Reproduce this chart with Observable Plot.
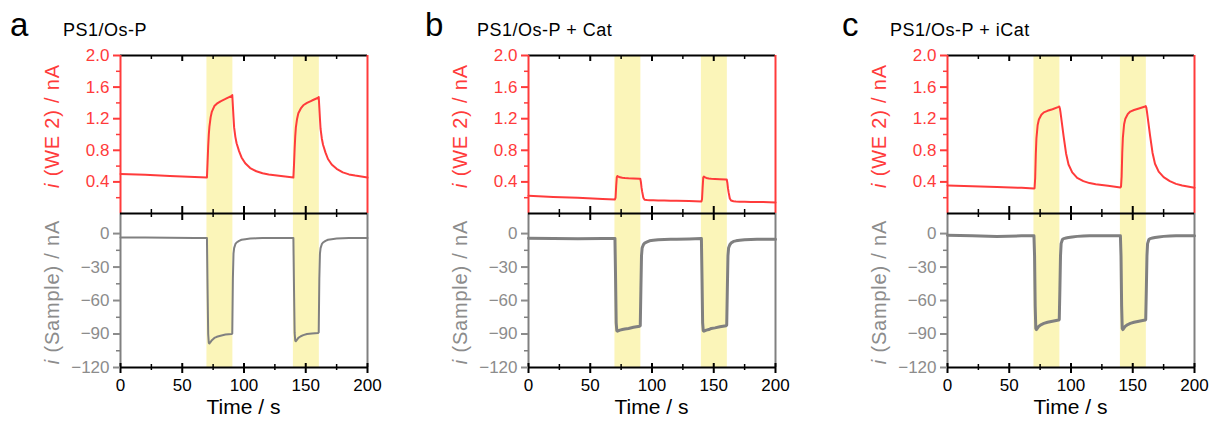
<!DOCTYPE html>
<html>
<head>
<meta charset="utf-8">
<script src="https://cdn.jsdelivr.net/npm/d3@7"></script>
<script src="https://cdn.jsdelivr.net/npm/@observablehq/plot@0.6"></script>
<style>
  body { margin: 0; background: #fff; }
  #chart { position: relative; width: 1210px; height: 423px; overflow: hidden; background: #fff; }
  #chart svg { position: absolute; overflow: visible; }
</style>
</head>
<body>
<div id="chart"></div>
<script>
// ---------------- DATA ----------------
const time = [0, 20, 40, 60, 70, 70.5, 71, 71.5, 72, 73, 74, 76, 78, 81, 85, 90, 90.5, 91, 91.5, 92, 93, 94, 96, 98, 101, 105, 110, 115, 120, 130,
              140, 140.5, 141, 141.5, 142, 143, 144, 146, 148, 151, 155, 160, 160.5, 161, 161.5, 162, 163, 164, 166, 168, 171, 175, 180, 185, 190, 200];

const we2A = [0.50, 0.49, 0.475, 0.462, 0.455, 0.65, 0.85, 1.0, 1.1, 1.22, 1.29, 1.36, 1.39, 1.42, 1.45, 1.49, 1.50, 1.36, 1.22, 1.09, 0.97, 0.89, 0.79, 0.71, 0.635, 0.575, 0.535, 0.51, 0.495, 0.475,
              0.455, 0.62, 0.82, 0.98, 1.09, 1.2, 1.27, 1.33, 1.37, 1.40, 1.43, 1.465, 1.475, 1.34, 1.2, 1.07, 0.95, 0.87, 0.77, 0.69, 0.62, 0.565, 0.52, 0.495, 0.48, 0.455];
const sampleA = [-3.5, -3.6, -3.8, -3.9, -4, -50, -90, -98, -98.5, -97, -95.5, -93.5, -92.5, -91.5, -90.5, -90, -89.5, -40, -18, -13, -9.5, -8, -6.5, -5.5, -5, -4.5, -4.2, -4, -4, -4,
                 -4, -50, -89, -96, -96.5, -95, -93.5, -92, -91, -90, -89.5, -89, -88.5, -40, -18, -13, -9.5, -8, -6.5, -5.5, -5, -4.5, -4.2, -4, -4, -4];

const we2B = [0.225, 0.21, 0.20, 0.185, 0.178, 0.2, 0.35, 0.46, 0.475, 0.465, 0.458, 0.452, 0.448, 0.445, 0.443, 0.44, 0.44, 0.40, 0.33, 0.28, 0.2, 0.175, 0.17, 0.168, 0.167, 0.165, 0.164, 0.162, 0.16, 0.157,
              0.153, 0.18, 0.33, 0.455, 0.468, 0.458, 0.45, 0.444, 0.44, 0.437, 0.434, 0.43, 0.43, 0.39, 0.32, 0.27, 0.19, 0.165, 0.155, 0.152, 0.15, 0.149, 0.147, 0.145, 0.144, 0.14];
const sampleB = [-4.2, -4.4, -4.6, -4.5, -4.3, -40, -80, -87, -87.5, -87, -86.5, -86, -85.5, -85, -84, -83, -82.5, -50, -20, -13, -10, -8.5, -7.5, -6.5, -6, -5.5, -5.2, -5, -5, -4.8,
                 -4.5, -40, -80, -87, -87.5, -87, -86.5, -86, -85, -84.5, -83.5, -82.5, -82, -50, -20, -13, -10, -8.5, -7, -6.5, -6, -5.5, -5.2, -5, -5, -5];

const we2C = [0.355, 0.345, 0.335, 0.325, 0.315, 0.32, 0.45, 0.75, 0.95, 1.12, 1.19, 1.25, 1.28, 1.30, 1.32, 1.35, 1.355, 1.33, 1.28, 1.22, 1.10, 0.98, 0.76, 0.62, 0.52, 0.45, 0.41, 0.385, 0.37, 0.35,
              0.33, 0.34, 0.47, 0.77, 0.96, 1.13, 1.2, 1.26, 1.29, 1.31, 1.33, 1.355, 1.36, 1.34, 1.29, 1.23, 1.11, 0.99, 0.77, 0.63, 0.53, 0.46, 0.41, 0.375, 0.355, 0.325];
const sampleC = [-1.5, -2, -2.5, -2, -2, -20, -65, -85, -86, -84.5, -83, -81.5, -80.5, -79.5, -78.5, -77.5, -77, -50, -20, -9, -5.5, -4.5, -4, -3.5, -3, -2.5, -2.2, -2, -2, -2,
                 -2, -20, -65, -85, -86, -84.5, -83, -81.5, -80.5, -79.5, -78.5, -77.5, -77, -50, -20, -9, -5.5, -4.5, -4, -3.5, -3, -2.5, -2.2, -2, -2, -2];

const bandStart = [70, 140];
const bandEnd = [91, 161];

const panelLetters = ["a", "b", "c"];
const panelTitles = ["PS1/Os-P", "PS1/Os-P + Cat", "PS1/Os-P + iCat"];
const xTicks = [0, 50, 100, 150, 200];
const xInner = [50, 100, 150];
const xMinor = [25, 75, 125, 175];
const we2Ticks = [0.4, 0.8, 1.2, 1.6, 2.0];
const we2Minor = [0.2, 0.6, 1.0, 1.4, 1.8];
const sampleTicks = [0, -30, -60, -90, -120];
const sampleMinor = [-15, -45, -75, -105];

// ---------------- STYLE / LAYOUT ----------------
const FONT = '"Liberation Sans", Arial, sans-serif';
const RED = "#ff3b3b", GRAY = "#808080", GRAYTXT = "#8c8c8c", BAND = "#fbf5b9";
const FW = 247, ML = 110, MR = 12;
const frameLefts = [120, 528, 947];
const TOP_Y0 = 55, DIV_Y = 213, BOT_Y = 367, H_TOTAL = 423;
const letterX = [10, 425, 842];
const titleX = [63, 477, 890];

const bandRows = bandStart.map((s, i) => ({start: s, end: bandEnd[i]}));
const series = [[we2A, sampleA], [we2B, sampleB], [we2C, sampleC]];
const sampleWidth = [2, 3, 3];

const chart = document.getElementById("chart");

function topPlot(values) {
  const data = time.map((t, i) => ({t, v: values[i]}));
  const fh = DIV_Y - TOP_Y0;
  return Plot.plot({
    width: ML + FW + MR, height: DIV_Y,
    marginLeft: ML, marginRight: MR, marginTop: TOP_Y0, marginBottom: 0,
    x: {domain: [0, 200], axis: null},
    y: {domain: [0, 2], axis: null},
    style: {background: "transparent", overflow: "visible", fontFamily: FONT},
    marks: [
      Plot.rect(bandRows, {x1: "start", x2: "end", fill: BAND}),
      Plot.line(data, {x: "t", y: "v", stroke: RED, strokeWidth: 2}),
      Plot.ruleY([2], {stroke: "black", strokeWidth: 2}),
      Plot.ruleX([0, 200], {stroke: RED, strokeWidth: 2}),
      Plot.tickX(xInner, {x: d => d, stroke: "black", strokeWidth: 2, insetBottom: fh - 6}),
      Plot.tickX(xMinor, {x: d => d, stroke: "black", strokeWidth: 1.5, insetBottom: fh - 4}),
      Plot.axisY(we2Ticks, {anchor: "left", label: null, tickSize: 7, tickPadding: 4, strokeWidth: 2, color: RED, fontSize: 17, tickFormat: d3.format(".1f")}),
      Plot.tickY(we2Minor, {y: d => d, stroke: RED, strokeWidth: 1.5, insetLeft: -4, insetRight: FW})
    ]
  });
}

function bottomPlot(values, sw) {
  const data = time.map((t, i) => ({t, v: values[i]}));
  const fh = BOT_Y - DIV_Y;
  return Plot.plot({
    width: ML + FW + MR, height: H_TOTAL - DIV_Y,
    marginLeft: ML, marginRight: MR, marginTop: 0, marginBottom: H_TOTAL - BOT_Y,
    x: {domain: [0, 200], axis: null},
    y: {domain: [-120, 18], axis: null},
    style: {background: "transparent", overflow: "visible", fontFamily: FONT},
    marks: [
      Plot.rect(bandRows, {x1: "start", x2: "end", fill: BAND}),
      Plot.line(data, {x: "t", y: "v", stroke: GRAY, strokeWidth: sw}),
      Plot.ruleX([0, 200], {stroke: GRAY, strokeWidth: 2}),
      Plot.ruleY([18], {stroke: "black", strokeWidth: 2}),
      Plot.ruleY([-120], {stroke: "black", strokeWidth: 2}),
      Plot.tickX(xInner, {x: d => d, stroke: "black", strokeWidth: 2, insetTop: -7, insetBottom: fh - 7}),
      Plot.tickX(xMinor, {x: d => d, stroke: "black", strokeWidth: 1.5, insetTop: -4, insetBottom: fh - 4}),
      Plot.tickX(xTicks, {x: d => d, stroke: "black", strokeWidth: 2, insetTop: fh - 4, insetBottom: -6}),
      Plot.tickX(xMinor, {x: d => d, stroke: "black", strokeWidth: 1.5, insetTop: fh - 3, insetBottom: -3}),
      Plot.axisX(xTicks, {anchor: "bottom", label: null, tickSize: 0, tickPadding: 11, fontSize: 17, color: "black"}),
      Plot.axisY(sampleTicks, {anchor: "left", label: null, tickSize: 7, tickPadding: 4, strokeWidth: 2, color: GRAYTXT, fontSize: 17}),
      Plot.tickY(sampleMinor, {y: d => d, stroke: GRAY, strokeWidth: 1.5, insetLeft: -4, insetRight: FW})
    ]
  });
}

series.forEach(([we2, sample], p) => {
  const left = frameLefts[p] - ML;
  const top = topPlot(we2);
  top.style.left = left + "px";
  top.style.top = "0px";
  chart.appendChild(top);
  const bot = bottomPlot(sample, sampleWidth[p]);
  bot.style.left = left + "px";
  bot.style.top = DIV_Y + "px";
  chart.appendChild(bot);
});

// ---------------- TEXT OVERLAY ----------------
const overlay = d3.select(chart).append("svg")
  .attr("width", 1210).attr("height", 423)
  .style("left", "0px").style("top", "0px")
  .style("pointer-events", "none")
  .style("font-family", FONT);

panelLetters.forEach((letter, p) => {
  const fx = frameLefts[p];
  overlay.append("text").attr("x", letterX[p]).attr("y", 36)
    .attr("font-size", 33).attr("fill", "black").text(letter);
  overlay.append("text").attr("x", titleX[p]).attr("y", 36)
    .attr("font-size", 18).attr("letter-spacing", "0.5px").attr("fill", "black").text(panelTitles[p]);

  const t1 = overlay.append("text")
    .attr("transform", `translate(${fx - 61},126) rotate(-90)`)
    .attr("text-anchor", "middle").attr("font-size", 20).attr("letter-spacing", "0.8px").attr("fill", RED);
  t1.append("tspan").attr("font-style", "italic").text("i");
  t1.append("tspan").text(" (WE 2) / nA");

  const t2 = overlay.append("text")
    .attr("transform", `translate(${fx - 61},292) rotate(-90)`)
    .attr("text-anchor", "middle").attr("font-size", 20).attr("letter-spacing", "0.8px").attr("fill", GRAYTXT);
  t2.append("tspan").attr("font-style", "italic").text("i");
  t2.append("tspan").text(" (Sample) / nA");

  overlay.append("text").attr("x", fx + FW / 2).attr("y", 414)
    .attr("text-anchor", "middle").attr("font-size", 21).attr("fill", "black")
    .text("Time / s");
});
</script>
</body>
</html>
